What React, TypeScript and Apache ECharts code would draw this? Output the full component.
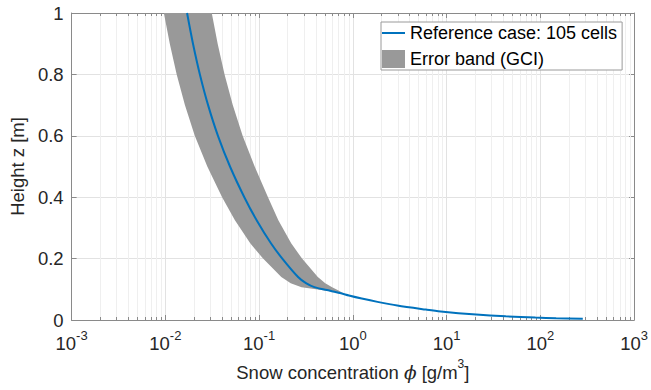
import React, { useEffect, useRef } from 'react';
import * as echarts from 'echarts';

// Reference case (blue line): height z [m] and concentration phi [g/m3]
const refY = [1.0, 0.9, 0.8, 0.7, 0.6, 0.5, 0.4, 0.325, 0.25, 0.2, 0.14, 0.12, 0.107, 0.095, 0.087, 0.08, 0.07, 0.059, 0.047, 0.034, 0.028, 0.018, 0.012, 0.008, 0.006, 0.004];
const refX = [0.01704, 0.01971, 0.02335, 0.02856, 0.0364, 0.04892, 0.06953, 0.09412, 0.1337, 0.1768, 0.2604, 0.3162, 0.3886, 0.5727, 0.7478, 0.9078, 1.2437, 1.833, 2.976, 6.009, 8.646, 20.69, 42.81, 88.6, 147.4, 283.6];

// Error band (GCI): left (lower concentration) and right (upper) edges
const bandLeftY = [1.0, 0.9, 0.8, 0.7, 0.6, 0.5, 0.4, 0.325, 0.25, 0.2, 0.14, 0.12, 0.107, 0.088];
const bandLeftX = [0.00964, 0.01115, 0.01321, 0.01616, 0.0206, 0.02802, 0.04029, 0.05522, 0.08042, 0.1102, 0.1725, 0.2173, 0.2836, 0.7848];
const bandRightY = [1.0, 0.9, 0.8, 0.7, 0.6, 0.5, 0.4, 0.325, 0.25, 0.2, 0.14, 0.12, 0.107, 0.097, 0.088];
const bandRightX = [0.03125, 0.03613, 0.04281, 0.05236, 0.06672, 0.08966, 0.1244, 0.1604, 0.2198, 0.2871, 0.4229, 0.5075, 0.6009, 0.6952, 0.7848];

const X_MIN = 0.001;
const X_MAX = 1000;
const Y_MIN = 0;
const Y_MAX = 1;
const Y_INTERVAL = 0.2;
const minorDecades = [0.001, 0.01, 0.1, 1, 10, 100];
const minorMultipliers = [2, 3, 4, 5, 6, 7, 8, 9];

const SERIES_LINE = 'Reference case: 105 cells';
const SERIES_BAND = 'Error band (GCI)';

const FONT = '"Liberation Sans", Arial, Helvetica, sans-serif';
const TEXT = '#262626';
const AXIS = '#8a8a8a';
const BLUE = '#0072BD';
const GRAY = '#999999';

export default function App() {
  const ref = useRef<HTMLDivElement>(null);
  useEffect(() => {
    document.body.style.margin = '0';
    const chart = echarts.init(ref.current as HTMLDivElement, null, { renderer: 'svg' });
    const minorData: number[][] = [];
    minorDecades.forEach((d) => minorMultipliers.forEach((m) => minorData.push([m * d, 0])));

    const xLabelRich = {
      b: { fontSize: 18.5, fontFamily: FONT, color: TEXT, lineHeight: 24, verticalAlign: 'bottom' },
      s: { fontSize: 13, fontFamily: FONT, color: TEXT, lineHeight: 14, verticalAlign: 'top' },
    };

    const option: any = {
      animation: false,
      backgroundColor: '#fff',
      grid: { left: 65, right: 16, top: 13, bottom: 70, containLabel: false },
      legend: {
        left: 381,
        top: 22,
        orient: 'vertical',
        itemWidth: 23,
        itemHeight: 18,
        itemGap: 8,
        padding: [2, 5, 2, 1],
        borderColor: '#9a9a9a',
        borderWidth: 1,
        backgroundColor: '#fff',
        selectedMode: false,
        textStyle: { fontSize: 18, color: '#000', fontFamily: FONT },
        data: [
          { name: SERIES_LINE, icon: 'path://M0,0 M23,18 M0,8 L23,8 L23,10 L0,10 Z', itemStyle: { color: BLUE } },
          { name: SERIES_BAND, icon: 'rect', itemStyle: { color: GRAY } },
        ],
      },
      xAxis: [
        {
          type: 'log',
          logBase: 10,
          min: X_MIN,
          max: X_MAX,
          axisLine: { show: true, onZero: false, lineStyle: { color: AXIS, width: 1 } },
          axisTick: { show: true, inside: true, length: 5, lineStyle: { color: AXIS } },
          axisLabel: {
            margin: 9,
            formatter: (v: number) => `{b|10}{s|${Math.round(Math.log10(v))}}`,
            rich: xLabelRich,
          },
          splitLine: { show: true, lineStyle: { color: '#e2e2e2', width: 1 } },
          name: '{n|Snow concentration }{p|ϕ}{n| [g/m}{s|3}{n|]}',
          nameLocation: 'middle',
          nameGap: 35,
          nameTextStyle: {
            rich: {
              n: { fontSize: 18.5, fontFamily: FONT, color: TEXT, lineHeight: 24, verticalAlign: 'bottom' },
              p: { fontSize: 18.5, fontFamily: '"DejaVu Serif", serif', fontStyle: 'italic', color: TEXT, lineHeight: 24, verticalAlign: 'bottom' },
              s: { fontSize: 12, fontFamily: FONT, color: TEXT, lineHeight: 14, verticalAlign: 'top' },
            },
          },
        },
        {
          type: 'log',
          logBase: 10,
          min: X_MIN,
          max: X_MAX,
          position: 'top',
          axisLine: { show: true, onZero: false, lineStyle: { color: AXIS, width: 1 } },
          axisTick: { show: true, inside: true, length: 5, lineStyle: { color: AXIS } },
          axisLabel: { show: false },
          splitLine: { show: false },
        },
      ],
      yAxis: [
        {
          type: 'value',
          min: Y_MIN,
          max: Y_MAX,
          interval: Y_INTERVAL,
          axisLine: { show: true, onZero: false, lineStyle: { color: AXIS, width: 1 } },
          axisTick: { show: true, inside: true, length: 5, lineStyle: { color: AXIS } },
          axisLabel: { margin: 8, fontSize: 18.5, color: TEXT, fontFamily: FONT },
          splitLine: { show: true, lineStyle: { color: '#e2e2e2', width: 1 } },
          name: 'Height z [m]',
          nameLocation: 'middle',
          nameGap: 38,
          nameTextStyle: { fontSize: 18.5, color: TEXT, fontFamily: FONT },
        },
        {
          type: 'value',
          min: Y_MIN,
          max: Y_MAX,
          interval: Y_INTERVAL,
          position: 'right',
          axisLine: { show: true, onZero: false, lineStyle: { color: AXIS, width: 1 } },
          axisTick: { show: true, inside: true, length: 5, lineStyle: { color: AXIS } },
          axisLabel: { show: false },
          splitLine: { show: false },
        },
      ],
      series: [
        {
          type: 'custom',
          name: 'minor',
          silent: true,
          z: 1,
          xAxisIndex: 0,
          yAxisIndex: 0,
          data: minorData,
          renderItem: (params: any, api: any) => {
            const p = api.coord([api.value(0), 0]);
            const cs = params.coordSys;
            const x = Math.round(p[0]) + 0.5;
            return {
              type: 'group',
              children: [
                { type: 'line', shape: { x1: x, y1: cs.y, x2: x, y2: cs.y + cs.height }, style: { stroke: '#efefef', lineWidth: 1 } },
                { type: 'line', shape: { x1: x, y1: cs.y + cs.height, x2: x, y2: cs.y + cs.height - 3 }, style: { stroke: AXIS, lineWidth: 1 } },
                { type: 'line', shape: { x1: x, y1: cs.y, x2: x, y2: cs.y + 3 }, style: { stroke: AXIS, lineWidth: 1 } },
              ],
            };
          },
        },
        {
          type: 'custom',
          name: SERIES_BAND,
          z: 2,
          clip: true,
          itemStyle: { color: GRAY },
          xAxisIndex: 0,
          yAxisIndex: 0,
          data: [[bandLeftX[0], bandLeftY[0]]],
          renderItem: (params: any, api: any) => {
            const pts: number[][] = [];
            bandLeftX.forEach((x, i) => pts.push(api.coord([x, bandLeftY[i]])));
            for (let i = bandRightX.length - 2; i >= 0; i--) pts.push(api.coord([bandRightX[i], bandRightY[i]]));
            return { type: 'polygon', shape: { points: pts }, style: { fill: GRAY } };
          },
        },
        {
          type: 'line',
          name: SERIES_LINE,
          z: 3,
          xAxisIndex: 0,
          yAxisIndex: 0,
          symbol: 'none',
          smooth: 0.3,
          lineStyle: { color: BLUE, width: 2 },
          itemStyle: { color: BLUE },
          data: refX.map((x, i) => [x, refY[i]]),
        },
      ],
    };
    chart.setOption(option);
    return () => chart.dispose();
  }, []);
  return <div ref={ref} style={{ width: 651, height: 390 }} />;
}
